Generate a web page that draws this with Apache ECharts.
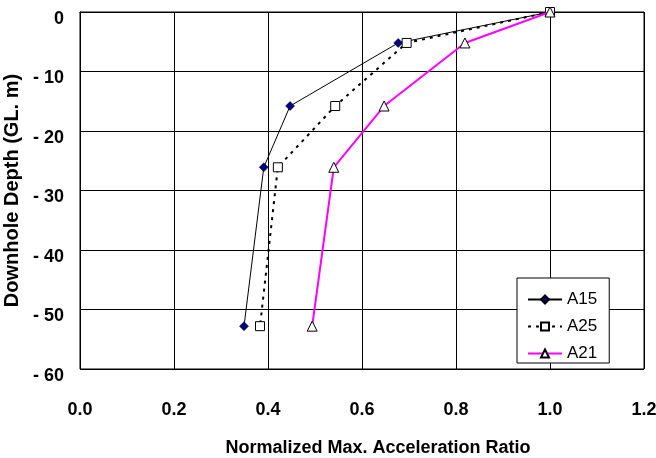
<!DOCTYPE html>
<html>
<head>
<meta charset="utf-8">
<script src="https://cdn.jsdelivr.net/npm/echarts@6/dist/echarts.min.js"></script>
<style>
  html, body { margin: 0; padding: 0; background: #fff; }
  #chart { width: 656px; height: 458px; }
</style>
</head>
<body>
<div id="chart"></div>
<script>
var depth = [0, -5.2, -15.8, -26.1, -52.8];
var a15 = [1.0, 0.677, 0.447, 0.391, 0.349];
var a25 = [1.0, 0.695, 0.543, 0.421, 0.383];
var a21 = [1.0, 0.819, 0.647, 0.540, 0.494];

function pairs(xs) {
    return xs.map(function (x, i) { return [x, depth[i]]; });
}

var myChart = echarts.init(document.getElementById('chart'));

var font = 'Liberation Sans, Arial, sans-serif';

var option = {
    backgroundColor: '#fff',
    animation: false,
    grid: {
        left: 80,
        right: 12,
        top: 12,
        bottom: 89,
        outerBoundsMode: 'none',
        containLabel: false,
        show: true,
        borderColor: '#000',
        borderWidth: 1
    },
    legend: {
        orient: 'vertical',
        left: 517,
        top: 278,
        padding: [13, 12, 1, 10],
        itemGap: 10,
        itemWidth: 34,
        itemHeight: 10,
        borderColor: '#000',
        borderWidth: 1,
        backgroundColor: '#fff',
        textStyle: { fontFamily: font, fontSize: 17, color: '#000' },
        data: ['A15', 'A25', 'A21']
    },
    xAxis: {
        type: 'value',
        min: 0,
        max: 1.2,
        interval: 0.2,
        name: 'Normalized Max. Acceleration Ratio',
        nameLocation: 'middle',
        nameGap: 70,
        nameTextStyle: { fontFamily: font, fontSize: 18, fontWeight: 'bold', color: '#000', padding: [0, 0, 0, 32] },
        axisLine: { lineStyle: { color: '#000' } },
        axisTick: { show: false },
        axisLabel: {
            margin: 32,
            fontFamily: font, fontSize: 18, fontWeight: 'bold', color: '#000',
            formatter: function (v) { return v.toFixed(1); }
        },
        splitLine: { lineStyle: { color: '#000', width: 1 } }
    },
    yAxis: {
        type: 'value',
        min: -60,
        max: 0,
        interval: 10,
        name: 'Downhole Depth (GL. m)',
        nameLocation: 'middle',
        nameGap: 52,
        nameTextStyle: { fontFamily: font, fontSize: 20, fontWeight: 'bold', color: '#000' },
        axisLine: { lineStyle: { color: '#000' } },
        axisTick: { show: false },
        axisLabel: {
            margin: 16,
            verticalAlign: 'top',
            lineHeight: 14,
            fontFamily: font, fontSize: 18, fontWeight: 'bold', color: '#000',
            formatter: function (v) { return v === 0 ? '0' : '- ' + Math.abs(v); }
        },
        splitLine: { lineStyle: { color: '#000', width: 1 } }
    },
    series: [
        {
            name: 'A15',
            type: 'line',
            data: pairs(a15),
            symbol: 'diamond',
            symbolSize: 9,
            lineStyle: { color: '#000', width: 1 },
            itemStyle: { color: '#000080', borderColor: '#000', borderWidth: 0.5 },
            z: 3
        },
        {
            name: 'A25',
            type: 'line',
            data: pairs(a25),
            symbol: 'rect',
            symbolSize: 9,
            lineStyle: { color: '#000', width: 2, type: [3, 5] },
            itemStyle: { color: '#fff', borderColor: '#000', borderWidth: 1 },
            z: 4
        },
        {
            name: 'A21',
            type: 'line',
            data: pairs(a21),
            symbol: 'triangle',
            symbolSize: 10,
            lineStyle: { color: '#ff00ff', width: 2 },
            itemStyle: { color: '#fff', borderColor: '#000', borderWidth: 1 },
            z: 5
        }
    ]
};

myChart.setOption(option);
</script>
</body>
</html>
